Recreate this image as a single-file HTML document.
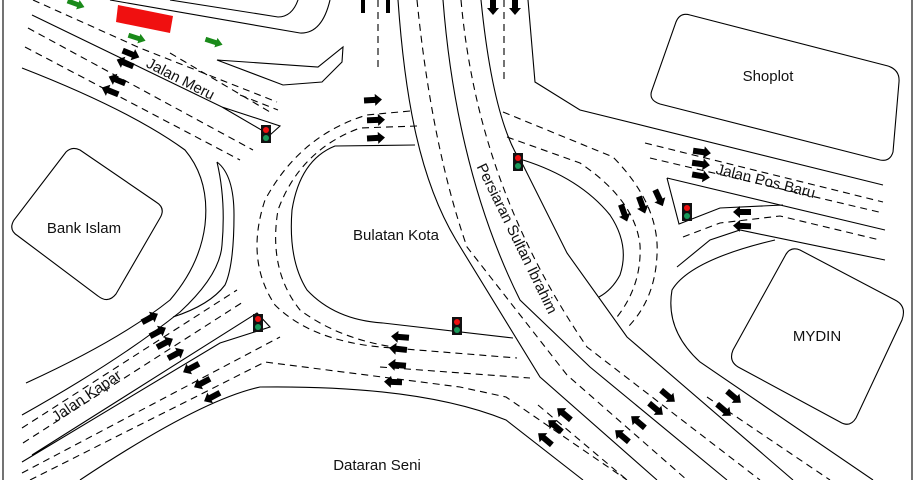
<!DOCTYPE html>
<html><head><meta charset="utf-8"><style>
html,body{margin:0;padding:0;background:#fff}
svg{display:block}
text{font-family:"Liberation Sans",Arial,sans-serif;font-size:15px;fill:#111}
</style></head><body>
<svg width="916" height="480" viewBox="0 0 916 480" xmlns="http://www.w3.org/2000/svg">
<defs>
<polygon id="ar" points="-9,-3 2,-3 2,-6 9,0 2,6 2,3 -9,3" fill="#000"/>
<polygon id="ag" points="-9,-2.5 2,-2.5 2,-5 9,0 2,5 2,2.5 -9,2.5" fill="#1a8a1a"/>
<g id="tl"><rect x="-5" y="-9" width="10" height="18" fill="#111"/><circle cx="0" cy="-4" r="3" fill="#e11"/><circle cx="0" cy="4" r="3" fill="#1a9a5a"/></g>
</defs>
<g fill="none" stroke="#000" stroke-width="1.1">
<line x1="3" y1="0" x2="3" y2="480"/><line x1="912" y1="0" x2="912" y2="480"/>
<path d="M80,150 Q72,146 66,152 L14,220 Q8,230 18,236 L98,296 Q108,304 116,294 L160,218 Q166,208 156,202 Z"/>
<path d="M690,15 Q680,12 676,22 L652,90 Q648,100 660,104 L880,160 Q890,162 893,152 L899,82 Q900,70 888,66 Z"/>
<path d="M800,250 Q790,246 785,256 L733,350 Q728,362 740,368 L840,422 Q850,428 856,418 L902,320 Q907,306 895,300 Z"/>
<path d="M170,0 L278,17 Q292,17 298,0"/>
<path d="M110,0 L300,33 Q322,34 330,0"/>
<path d="M217,60 L318,67 L343,47 L342,62 L322,82 L283,85 Z"/>
<path d="M32,15 L222,107 L280,126 L270,135 L222,107"/>
<path d="M22,68 Q130,110 185,150 Q210,180 205,225 Q200,265 170,300 Q120,340 26,383"/>
<path d="M217,162 Q226,200 222,245 Q220,275 180,312 Q120,360 22,415"/>
<path d="M217,162 Q234,175 234,215 Q234,265 225,285 Q210,305 173,317"/>
</g>
<g fill="none" stroke="#000" stroke-width="1.1" stroke-dasharray="7,5">
<path d="M33,0 L140,48 L277,102"/>
<path d="M170,53 L270,112"/>
<path d="M240,95 L278,110"/>
<path d="M28,28 L253,150"/>
<path d="M25,47 L240,160"/>
<line x1="378" y1="0" x2="378" y2="72"/>
<line x1="504" y1="0" x2="504" y2="82"/>
<path d="M410,111 L367,115 Q300,135 265,200 Q245,260 275,305 Q310,340 380,347 L517,358"/>
<path d="M417,126 L360,128 Q300,150 278,210 Q268,270 300,310 Q340,340 400,348"/>
<path d="M22,428 L237,290"/>
<path d="M23,443 L243,302"/>
<path d="M22,473 L280,337"/>
<path d="M30,480 L265,362 L460,387 L506,397 L627,480"/>
<path d="M380,367 L530,378"/>
<path d="M417,0 C425,80 440,170 467,247 L567,375 L687,480"/>
<path d="M461,0 C470,100 500,220 587,347 L760,480"/>
<path d="M538,405 L627,480"/>
<path d="M707,397 L830,480"/>
<path d="M507,137 L580,163 Q635,200 640,245 Q642,285 617,317"/>
<path d="M503,112 L613,157 Q660,205 657,255 Q655,300 627,328"/>
<path d="M645,143 L883,202"/>
<path d="M650,158 L883,213"/>
<path d="M683,237 L720,223 L780,216 L880,240"/>
</g>
<g fill="none" stroke="#000" stroke-width="1.1">
<path d="M415,145 L335,146 Q300,160 292,210 Q288,260 307,290 Q335,320 383,323 L513,338"/>
<path d="M32,455 L257,313 L270,327 L220,343 L22,462"/>
<path d="M80,480 Q200,400 260,387 Q420,385 506,420 L583,480"/>
<path d="M398,0 C405,100 420,180 456,240 L540,377 L657,480"/>
<path d="M443,0 C450,90 470,200 520,300 L590,367 L727,480"/>
<path d="M481,0 C490,90 505,140 523,165 L567,253 L627,337 L793,480"/>
<path d="M528,0 L535,82 L580,110 L883,185"/>
<path d="M523,160 Q580,178 610,215 Q630,245 620,275 Q612,290 599,297"/>
<path d="M667,178 L885,230 M667,178 L679,224 L720,208 L783,205"/>
<path d="M677,267 L710,240 L740,230 L885,260"/>
<path d="M775,240 Q690,260 672,290 Q665,330 700,362 L873,480"/>
</g>
<polygon points="118,5 173,16 170,33 116,22" fill="#f01010"/>
<use href="#tl" x="266" y="134"/><use href="#tl" x="518" y="162"/><use href="#tl" x="687" y="212"/><use href="#tl" x="258" y="323"/><use href="#tl" x="457" y="326"/>
<rect x="361" y="0" width="4" height="13" fill="#000"/><rect x="386" y="0" width="4" height="13" fill="#000"/>
<use href="#ag" transform="translate(76,4) rotate(20)"/>
<use href="#ag" transform="translate(137,38) rotate(18)"/>
<use href="#ag" transform="translate(214,42) rotate(18)"/>
<use href="#ar" transform="translate(131,54) rotate(22)"/>
<use href="#ar" transform="translate(125,63) rotate(202)"/>
<use href="#ar" transform="translate(117,80) rotate(202)"/>
<use href="#ar" transform="translate(110,91) rotate(202)"/>
<use href="#ar" transform="translate(493,6) rotate(90)"/>
<use href="#ar" transform="translate(515,6) rotate(90)"/>
<use href="#ar" transform="translate(373,100) rotate(-3)"/>
<use href="#ar" transform="translate(376,120) rotate(-2)"/>
<use href="#ar" transform="translate(376,138) rotate(-3)"/>
<use href="#ar" transform="translate(702,152) rotate(8)"/>
<use href="#ar" transform="translate(701,164) rotate(8)"/>
<use href="#ar" transform="translate(701,176) rotate(10)"/>
<use href="#ar" transform="translate(742,212) rotate(180)"/>
<use href="#ar" transform="translate(742,226) rotate(182)"/>
<use href="#ar" transform="translate(624,213) rotate(70)"/>
<use href="#ar" transform="translate(642,205) rotate(70)"/>
<use href="#ar" transform="translate(659,198) rotate(65)"/>
<use href="#ar" transform="translate(150,318) rotate(-28)"/>
<use href="#ar" transform="translate(158,332) rotate(-28)"/>
<use href="#ar" transform="translate(165,343) rotate(-28)"/>
<use href="#ar" transform="translate(176,354) rotate(-28)"/>
<use href="#ar" transform="translate(191,368) rotate(152)"/>
<use href="#ar" transform="translate(202,383) rotate(152)"/>
<use href="#ar" transform="translate(212,397) rotate(152)"/>
<use href="#ar" transform="translate(400,337) rotate(185)"/>
<use href="#ar" transform="translate(398,349) rotate(186)"/>
<use href="#ar" transform="translate(397,365) rotate(185)"/>
<use href="#ar" transform="translate(393,382) rotate(182)"/>
<use href="#ar" transform="translate(564,414) rotate(-140)"/>
<use href="#ar" transform="translate(555,426) rotate(-140)"/>
<use href="#ar" transform="translate(545,439) rotate(-140)"/>
<use href="#ar" transform="translate(638,422) rotate(-140)"/>
<use href="#ar" transform="translate(622,436) rotate(-140)"/>
<use href="#ar" transform="translate(668,396) rotate(40)"/>
<use href="#ar" transform="translate(656,409) rotate(40)"/>
<use href="#ar" transform="translate(734,397) rotate(40)"/>
<use href="#ar" transform="translate(724,410) rotate(40)"/>
<text x="181" y="84" text-anchor="middle" transform="rotate(27 181 78)" font-size="16">Jalan Meru</text>
<text x="768" y="81" text-anchor="middle" font-size="16">Shoplot</text>
<text x="766" y="186" text-anchor="middle" transform="rotate(14 766 180)" font-size="16">Jalan Pos Baru</text>
<text x="84" y="233" text-anchor="middle" font-size="16">Bank Islam</text>
<text x="396" y="240" text-anchor="middle" font-size="16">Bulatan Kota</text>
<text x="518" y="244" text-anchor="middle" transform="rotate(64 518 238)" font-size="16">Persiaran Sultan Ibrahim</text>
<text x="817" y="341" text-anchor="middle" font-size="16">MYDIN</text>
<text x="86" y="401" text-anchor="middle" transform="rotate(-34 86 395)" font-size="16">Jalan Kapar</text>
<text x="377" y="470" text-anchor="middle" font-size="16">Dataran Seni</text>
</svg>
</body></html>
